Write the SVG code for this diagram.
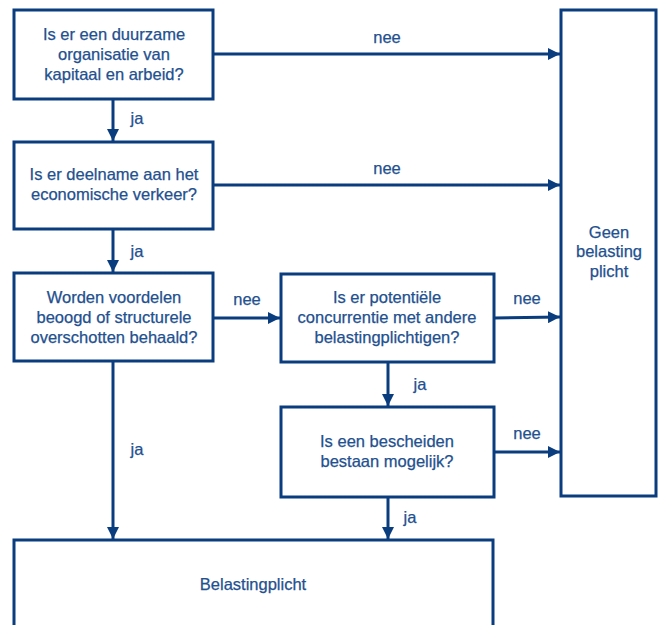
<svg xmlns="http://www.w3.org/2000/svg" width="662" height="625" viewBox="0 0 662 625">
<style>
.box{fill:#fff;stroke:#0a3d7e;stroke-width:3}
.t{font-family:"Liberation Sans",Arial,sans-serif;font-size:16.5px;fill:#23508f;stroke:#23508f;stroke-width:0.25;text-anchor:middle}
.c{stroke:#0a3d7e;stroke-width:3;fill:none}
</style>
<defs>
<marker id="ah" viewBox="0 0 10 10" refX="10" refY="5" markerWidth="4" markerHeight="4" orient="auto" markerUnits="strokeWidth">
<path d="M0,0 L10,5 L0,10 Z" fill="#0a3d7e"/>
</marker>
</defs>
<rect width="662" height="625" fill="#fff"/>
<g id="connectors">
<path class="c" d="M213,54 H560" marker-end="url(#ah)"/>
<path class="c" d="M213,185 H560" marker-end="url(#ah)"/>
<path class="c" d="M213,318 H280" marker-end="url(#ah)"/>
<path class="c" d="M494,318 L560,317" marker-end="url(#ah)"/>
<path class="c" d="M494,452 H560" marker-end="url(#ah)"/>
<path class="c" d="M113,99 V141" marker-end="url(#ah)"/>
<path class="c" d="M113,229 V272" marker-end="url(#ah)"/>
<path class="c" d="M113,361 V539" marker-end="url(#ah)"/>
<path class="c" d="M388,362 V406" marker-end="url(#ah)"/>
<path class="c" d="M388,497 V539" marker-end="url(#ah)"/>
<text class="t" x="387" y="43">nee</text>
<text class="t" x="387" y="174">nee</text>
<text class="t" x="247" y="305">nee</text>
<text class="t" x="527" y="304">nee</text>
<text class="t" x="527" y="439">nee</text>
<text class="t" x="137" y="124">ja</text>
<text class="t" x="137" y="257">ja</text>
<text class="t" x="137" y="455">ja</text>
<text class="t" x="420" y="390">ja</text>
<text class="t" x="410" y="523">ja</text>
</g>
<g id="n1">
<rect class="box" x="14" y="10" width="199" height="89"/>
<text class="t" x="114" y="40">Is er een duurzame</text>
<text class="t" x="114" y="60">organisatie van</text>
<text class="t" x="114" y="80">kapitaal en arbeid?</text>
</g>
<g id="n2">
<rect class="box" x="14" y="142" width="199" height="87"/>
<text class="t" x="114" y="180">Is er deelname aan het</text>
<text class="t" x="114" y="200">economische verkeer?</text>
</g>
<g id="n3">
<rect class="box" x="14" y="273" width="199" height="88"/>
<text class="t" x="114" y="303">Worden voordelen</text>
<text class="t" x="114" y="323">beoogd of structurele</text>
<text class="t" x="114" y="343">overschotten behaald?</text>
</g>
<g id="n4">
<rect class="box" x="281" y="274" width="213" height="88"/>
<text class="t" x="387" y="303">Is er potentiële</text>
<text class="t" x="387" y="323">concurrentie met andere</text>
<text class="t" x="387" y="343">belastingplichtigen?</text>
</g>
<g id="n5">
<rect class="box" x="281" y="407" width="213" height="90"/>
<text class="t" x="387" y="447">Is een bescheiden</text>
<text class="t" x="387" y="467">bestaan mogelijk?</text>
</g>
<g id="geen">
<rect class="box" x="561" y="10" width="95" height="486"/>
<text class="t" x="609" y="238">Geen</text>
<text class="t" x="609" y="257">belasting</text>
<text class="t" x="609" y="277">plicht</text>
</g>
<g id="belastingplicht">
<rect class="box" x="14" y="540" width="479" height="100"/>
<text class="t" x="253" y="590">Belastingplicht</text>
</g>
</svg>
